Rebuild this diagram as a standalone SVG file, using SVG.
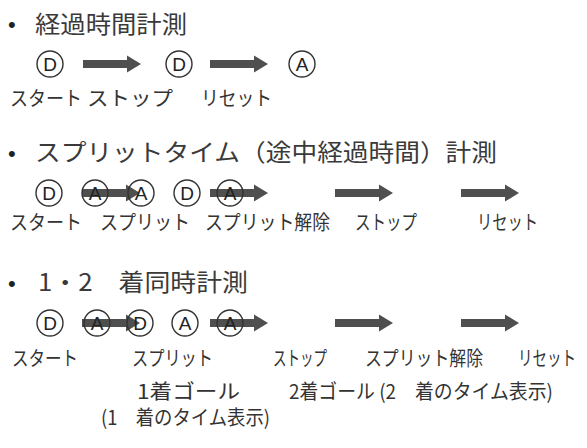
<svg xmlns="http://www.w3.org/2000/svg" xmlns:xlink="http://www.w3.org/1999/xlink" width="587" height="448" viewBox="0 0 587 448">
<style>
.title{font-family:"Noto Sans CJK JP","Noto Sans CJK SC",sans-serif;font-size:24px;fill:#3a3a3a}
.lbl{font-family:"Noto Sans CJK JP","Noto Sans CJK SC",sans-serif;font-size:20px;fill:#333}
.bul{font-family:"Liberation Sans",sans-serif;font-size:22px;fill:#222}
.ring{fill:none;stroke:#333;stroke-width:1.4}
.let{font-family:"Liberation Sans",sans-serif;font-size:19px;fill:#222;text-anchor:middle}
.arr{fill:#4f4f4f}
</style>
<defs>
<path id="arrow" class="arr" d="M0,-4 H44 V-8.5 L58,0 L44,8.5 V4 H0 Z"/>
</defs>
<rect width="587" height="448" fill="#fff"/>

<g id="titles">
<text class="bul" x="8" y="32">•</text>
<text class="title" x="35" y="33" textLength="152" lengthAdjust="spacingAndGlyphs">経過時間計測</text>
<text class="bul" x="8" y="161">•</text>
<text class="title" x="35" y="161" textLength="462" lengthAdjust="spacingAndGlyphs">スプリットタイム（途中経過時間）計測</text>
<text class="bul" x="8" y="291">•</text>
<text class="title" x="38" y="291" textLength="210" lengthAdjust="spacingAndGlyphs">1・2　着同時計測</text>
</g>

<g id="connectors">
<use href="#arrow" x="83" y="64"/>
<use href="#arrow" x="210" y="64"/>
<use href="#arrow" x="82" y="193"/>
<use href="#arrow" x="210" y="193"/>
<use href="#arrow" x="335" y="193"/>
<use href="#arrow" x="461" y="193"/>
<use href="#arrow" x="82" y="323"/>
<use href="#arrow" x="210" y="323"/>
<use href="#arrow" x="335" y="323"/>
<use href="#arrow" x="461" y="323"/>
</g>

<g id="row1-nodes">
<g id="r1n1"><circle class="ring" cx="50" cy="64" r="13"/><text class="let" x="50" y="71">D</text></g>
<g id="r1n2"><circle class="ring" cx="179" cy="64" r="13"/><text class="let" x="179" y="71">D</text></g>
<g id="r1n3"><circle class="ring" cx="302" cy="64" r="13"/><text class="let" x="302" y="71">A</text></g>
</g>
<g id="row1-labels">
<text class="lbl" x="10" y="106" textLength="72" lengthAdjust="spacingAndGlyphs">スタート</text>
<text class="lbl" x="87" y="106" textLength="86" lengthAdjust="spacingAndGlyphs">ストップ</text>
<text class="lbl" x="201" y="106" textLength="71" lengthAdjust="spacingAndGlyphs">リセット</text>
</g>

<g id="row2-nodes">
<g id="r2n1"><circle class="ring" cx="49" cy="193" r="13"/><text class="let" x="49" y="200">D</text></g>
<g id="r2n2"><circle class="ring" cx="95" cy="193" r="13"/><text class="let" x="95" y="200">A</text></g>
<g id="r2n3"><circle class="ring" cx="141" cy="193" r="13"/><text class="let" x="141" y="200">A</text></g>
<g id="r2n4"><circle class="ring" cx="187" cy="193" r="13"/><text class="let" x="187" y="200">D</text></g>
<g id="r2n5"><circle class="ring" cx="230" cy="193" r="13"/><text class="let" x="230" y="200">A</text></g>
</g>
<g id="row2-labels">
<text class="lbl" x="10" y="230" textLength="72" lengthAdjust="spacingAndGlyphs">スタート</text>
<text class="lbl" x="100" y="230" textLength="90" lengthAdjust="spacingAndGlyphs">スプリット</text>
<text class="lbl" x="205" y="230" textLength="125" lengthAdjust="spacingAndGlyphs">スプリット解除</text>
<text class="lbl" x="355" y="230" textLength="62" lengthAdjust="spacingAndGlyphs">ストップ</text>
<text class="lbl" x="477" y="230" textLength="61" lengthAdjust="spacingAndGlyphs">リセット</text>
</g>

<g id="row3-nodes">
<g id="r3n1"><circle class="ring" cx="50" cy="323" r="13"/><text class="let" x="50" y="330">D</text></g>
<g id="r3n2"><circle class="ring" cx="97" cy="323" r="13"/><text class="let" x="97" y="330">A</text></g>
<g id="r3n3"><circle class="ring" cx="140" cy="323" r="13"/><text class="let" x="140" y="330">D</text></g>
<g id="r3n4"><circle class="ring" cx="185" cy="323" r="13"/><text class="let" x="185" y="330">A</text></g>
<g id="r3n5"><circle class="ring" cx="230" cy="323" r="13"/><text class="let" x="230" y="330">A</text></g>
</g>
<g id="row3-labels">
<text class="lbl" x="12" y="366" textLength="66" lengthAdjust="spacingAndGlyphs">スタート</text>
<text class="lbl" x="132" y="366" textLength="81" lengthAdjust="spacingAndGlyphs">スプリット</text>
<text class="lbl" x="273" y="366" textLength="54" lengthAdjust="spacingAndGlyphs">ストップ</text>
<text class="lbl" x="365" y="366" textLength="118" lengthAdjust="spacingAndGlyphs">スプリット解除</text>
<text class="lbl" x="518" y="366" textLength="58" lengthAdjust="spacingAndGlyphs">リセット</text>
<text class="lbl" x="137" y="399" textLength="103" lengthAdjust="spacingAndGlyphs">1着ゴール</text>
<text class="lbl" x="289" y="399" textLength="264" lengthAdjust="spacingAndGlyphs">2着ゴール (2　着のタイム表示)</text>
<text class="lbl" x="101" y="425" textLength="169" lengthAdjust="spacingAndGlyphs">(1　着のタイム表示)</text>
</g>
</svg>
